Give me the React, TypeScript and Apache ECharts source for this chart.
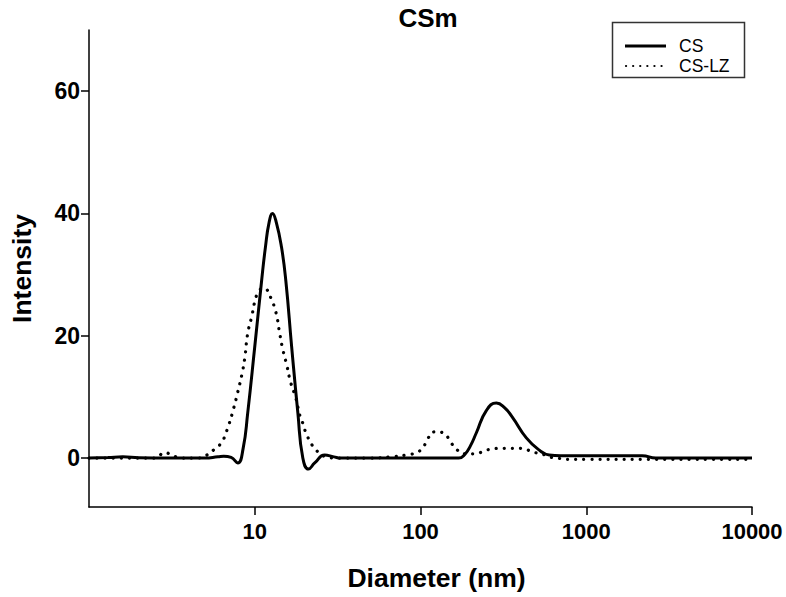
import React, { useEffect, useRef } from "react";
import * as echarts from "echarts";

const titleText = "CSm";
const xName = "Diameter (nm)";
const yName = "Intensity";
const xTickValues = [10, 100, 1000, 10000];
const yTickValues = [0, 20, 40, 60];
const seriesNames = ["CS", "CS-LZ"];

// CS (solid) — diameter in nm
const csDiameter = [
  1, 1.3, 1.6, 2.0, 3, 4, 5, 6.0, 6.5, 7.2, 7.9, 8.5, 9.07, 10.0, 11.0, 11.6,
  12.2, 12.8, 13.5, 14.5, 15.4, 16.7, 18.2, 19.5, 21.1, 23, 26.4, 30, 33, 60,
  100, 170, 185, 200, 217, 250, 287, 320, 358, 435, 521, 598, 700, 1000, 1500,
  2175, 2630, 4000, 10000,
];
const csIntensity = [
  0, 0.1, 0.2, 0.05, 0, 0, 0, 0.2, 0.3, 0.1, -0.8, 1.5, 7.4, 18.2, 29, 34.5,
  38.5, 40, 38.5, 34.5, 29, 18.2, 7.4, 0, -1.8, -0.8, 0.5, 0.2, 0, 0, 0, 0,
  0.6, 2.0, 4.1, 7.8, 9.0, 8.3, 6.7, 3.3, 1.3, 0.5, 0.4, 0.4, 0.4, 0.4, 0, 0,
  0,
];

// CS-LZ (dotted)
const lzDiameter = [
  1, 2.5, 2.87, 3.2, 3.6, 4.5, 5.14, 5.74, 6.33, 6.69, 6.97, 7.47, 7.9, 8.35,
  8.7, 9.07, 9.6, 10.1, 10.6, 11.3, 11.8, 12.5, 13.4, 14.1, 14.7, 15.6, 16.5,
  17.7, 18.7, 19.5, 20.3, 21.4, 23.0, 26.3, 32.4, 50, 65, 82, 92, 103, 110, 123,
  138, 152, 167, 189, 211, 236, 268, 299, 334, 379, 423, 473, 536, 598, 669,
  759, 1000, 2400, 10000,
];
const lzIntensity = [
  0, 0, 0.9, 0.4, 0, 0, 0.5, 1.5, 2.6, 4.1, 5.4, 8.2, 10.8, 13.6, 16.3, 20.4,
  23.2, 26.0, 27.3, 27.8, 27.6, 26.2, 23.9, 20.6, 18.0, 15.2, 12.3, 9.8, 7.0,
  5.7, 4.2, 2.9, 1.6, 0.3, 0, 0, 0.2, 0.5, 0.8, 1.6, 3.1, 4.3, 4.1, 2.6, 1.3,
  0.7, 0.7, 1.0, 1.5, 1.6, 1.6, 1.6, 1.5, 1.0, 0.7, 0.2, 0, -0.2, -0.2, -0.2,
  -0.2,
];

const FONT = "Liberation Sans, Arial, Helvetica, sans-serif";

export default function App() {
  const ref = useRef<HTMLDivElement>(null);
  useEffect(() => {
    if (!ref.current) return;
    const chart = echarts.init(ref.current, null, { renderer: "svg" });
    const csData = csDiameter.map((d, i) => [Math.log10(d), csIntensity[i]]);
    const lzData = lzDiameter.map((d, i) => [Math.log10(d), lzIntensity[i]]);
    const xTicks = xTickValues.map((v) => Math.log10(v));
    chart.setOption({
      animation: false,
      backgroundColor: "#ffffff",
      title: {
        text: titleText,
        left: 423,
        top: 0,
        textAlign: "center",
        textStyle: { fontFamily: FONT, fontWeight: "bold", fontSize: 26, color: "#000" },
      },
      grid: {
        left: 89,
        right: 34,
        top: 30,
        bottom: 90,
        containLabel: false,
        outerBoundsMode: "none",
      },
      xAxis: {
        type: "value",
        min: 0,
        max: 4,
        name: xName,
        nameLocation: "middle",
        nameGap: 57,
        nameTextStyle: {
          fontFamily: FONT,
          fontWeight: "bold",
          fontSize: 26.5,
          color: "#000",
          padding: [0, 0, 0, 32],
        },
        axisLine: { show: true, onZero: false, lineStyle: { color: "#000", width: 1.5 } },
        axisTick: {
          show: true,
          length: 8,
          inside: false,
          customValues: xTicks,
          lineStyle: { color: "#000", width: 1.5 },
        },
        axisLabel: {
          customValues: xTicks,
          margin: 13,
          fontFamily: FONT,
          fontWeight: "bold",
          fontSize: 22,
          color: "#000",
          formatter: (v: number) => String(Math.round(Math.pow(10, v))),
        },
        splitLine: { show: false },
      },
      yAxis: {
        type: "value",
        min: -8,
        max: 70,
        name: yName,
        nameLocation: "middle",
        nameGap: 54,
        nameRotate: 90,
        nameTextStyle: { fontFamily: FONT, fontWeight: "bold", fontSize: 26.5, color: "#000" },
        axisLine: { show: true, lineStyle: { color: "#000", width: 1.5 } },
        axisTick: {
          show: true,
          length: 8,
          customValues: yTickValues,
          lineStyle: { color: "#000", width: 1.5 },
        },
        axisLabel: {
          customValues: yTickValues,
          margin: 9,
          fontFamily: FONT,
          fontWeight: "bold",
          fontSize: 23,
          color: "#000",
        },
        splitLine: { show: false },
      },
      series: [
        {
          name: seriesNames[0],
          type: "line",
          data: csData,
          showSymbol: false,
          smooth: 0.5,
          lineStyle: { color: "#000", width: 3 },
          z: 3,
        },
        {
          name: seriesNames[1],
          type: "line",
          data: lzData,
          showSymbol: false,
          smooth: 0.5,
          lineStyle: { color: "#000", width: 3.2, type: [0.1, 8], cap: "round" },
          z: 2,
        },
      ],
      graphic: [
        {
          type: "rect",
          shape: { x: 612.5, y: 22.5, width: 132, height: 55 },
          style: { fill: "#fff", stroke: "#333", lineWidth: 1.5 },
          z: 10,
        },
        {
          type: "line",
          shape: { x1: 625, y1: 46, x2: 666, y2: 46 },
          style: { stroke: "#000", lineWidth: 3 },
          z: 11,
        },
        {
          type: "line",
          shape: { x1: 626, y1: 66, x2: 666, y2: 66 },
          style: { stroke: "#000", lineWidth: 2.2, lineDash: [0.1, 7], lineCap: "round" },
          z: 11,
        },
        {
          type: "text",
          x: 679,
          y: 46,
          style: { text: seriesNames[0], font: `17.5px ${FONT}`, fill: "#000", verticalAlign: "middle" },
          z: 11,
        },
        {
          type: "text",
          x: 679,
          y: 66,
          style: { text: seriesNames[1], font: `17.5px ${FONT}`, fill: "#000", verticalAlign: "middle" },
          z: 11,
        },
      ],
    });
    return () => chart.dispose();
  }, []);
  return (
    <div
      ref={ref}
      style={{ position: "fixed", left: 0, top: 0, width: 786, height: 597 }}
    />
  );
}
